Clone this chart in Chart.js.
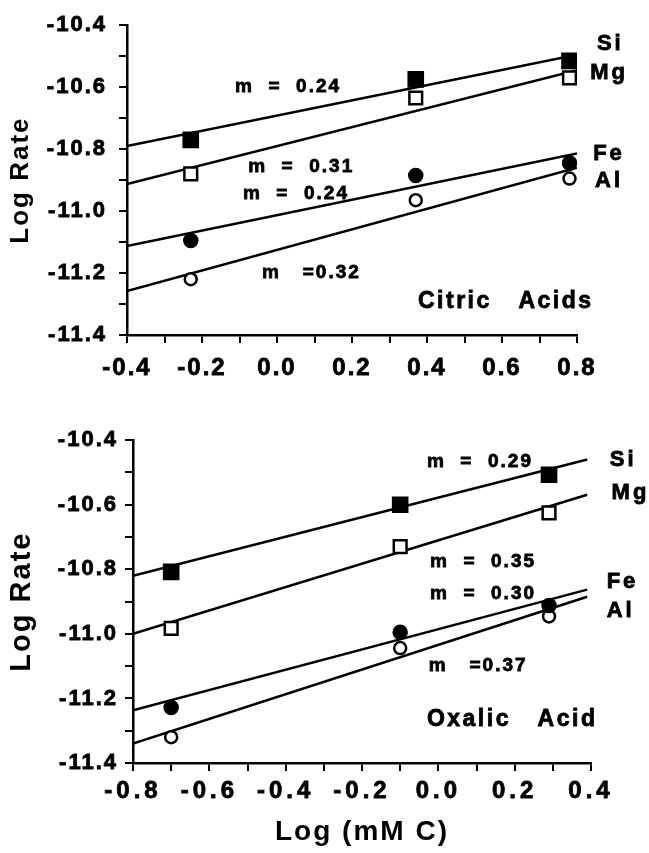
<!DOCTYPE html>
<html>
<head>
<meta charset="utf-8">
<script src="https://cdn.jsdelivr.net/npm/chart.js@4.4.0/dist/chart.umd.min.js"></script>
<style>
  html, body { margin: 0; padding: 0; background: #fff; }
  #wrap { position: relative; width: 649px; height: 853px; }
  canvas { position: absolute; left: 0; }
  #citric { top: 0; }
  #oxalic { top: 420px; }
</style>
</head>
<body>
<div id="wrap">
  <canvas id="citric" width="649" height="420"></canvas>
  <canvas id="oxalic" width="649" height="433"></canvas>
</div>
<script>
// citric acid panel (log mM C vs log rate)
const citricX = [-0.23, 0.37, 0.78];
const citricSi = [-10.77, -10.575, -10.515];
const citricMg = [-10.88, -10.635, -10.57];
const citricFe = [-11.095, -10.885, -10.845];
const citricAl = [-11.22, -10.965, -10.895];

// fitted lines, end points
const citricFitX = [-0.4, 0.8];
const citricSiFit = [-10.79, -10.495];
const citricMgFit = [-10.913, -10.545];
const citricFeFit = [-11.113, -10.814];
const citricAlFit = [-11.258, -10.86];

// oxalic acid panel
const oxalicX = [-0.70, -0.10, 0.29];
const oxalicSi = [-10.808, -10.60, -10.507];
const oxalicMg = [-10.983, -10.73, -10.625];
const oxalicFe = [-11.228, -10.995, -10.912];
const oxalicAl = [-11.32, -11.044, -10.946];

const oxalicFitX = [-0.8, 0.39];
const oxalicSiFit = [-10.82, -10.46];
const oxalicMgFit = [-11.0, -10.569];
const oxalicFeFit = [-11.237, -10.863];
const oxalicAlFit = [-11.34, -10.885];

// text placed in data units
const citricSlopes = [
    { text: 'm  =  0.24', x: -0.112, y: -10.60 },
    { text: 'm  =  0.31', x: -0.077, y: -10.857 },
    { text: 'm  =  0.24', x: -0.091, y: -10.944 },
    { text: 'm   =0.32', x: -0.04, y: -11.2 }
];
const citricElements = [
    { text: 'Si', x: 0.853, y: -10.462 },
    { text: 'Mg', x: 0.835, y: -10.554 },
    { text: 'Fe', x: 0.843, y: -10.817 },
    { text: 'Al', x: 0.848, y: -10.904 }
];
const citricTitle = [{ text: 'Citric   Acids', x: 0.376, y: -11.292 }];

const oxalicSlopes = [
    { text: 'm  =  0.29', x: -0.03, y: -10.467 },
    { text: 'm  =  0.35', x: -0.022, y: -10.777 },
    { text: 'm  =  0.30', x: -0.022, y: -10.875 },
    { text: 'm   =0.37', x: -0.025, y: -11.099 }
];
const oxalicElements = [
    { text: 'Si', x: 0.449, y: -10.461 },
    { text: 'Mg', x: 0.454, y: -10.563 },
    { text: 'Fe', x: 0.441, y: -10.839 },
    { text: 'Al', x: 0.441, y: -10.928 }
];
const oxalicTitle = [{ text: 'Oxalic   Acid', x: -0.03, y: -11.265 }];

Chart.defaults.font.family = '"Liberation Sans", Arial, sans-serif';
Chart.defaults.font.weight = 'bold';
Chart.defaults.color = '#000';

const pts = (xs, ys) => xs.map((x, i) => ({ x: x, y: ys[i] }));

const marker = (data, style, filled, radius) => ({
    data: data,
    pointStyle: style,
    pointRadius: radius,
    pointBackgroundColor: filled ? '#000' : '#fff',
    pointBorderColor: '#000',
    pointBorderWidth: 2.5,
    showLine: false,
    order: 0
});

const fit = (data) => ({
    data: data,
    showLine: true,
    borderColor: '#000',
    borderWidth: 2.5,
    pointRadius: 0,
    order: 1
});

const evenLabel = (v) => Math.round(v * 10) % 2 === 0 ? v.toFixed(1) : '';

const notesPlugin = {
    id: 'notes',
    afterDatasetsDraw(chart, args, opts) {
        const { ctx } = chart;
        const xs = chart.scales.x;
        const ys = chart.scales.y;
        ctx.save();
        ctx.fillStyle = '#000';
        ctx.strokeStyle = '#000';
        ctx.lineWidth = 0.8;
        ctx.textAlign = 'left';
        ctx.textBaseline = 'middle';
        (opts.groups || []).forEach(g => {
            ctx.font = g.font;
            ctx.letterSpacing = g.spacing + 'px';
            g.items.forEach(n => {
                const px = xs.getPixelForValue(n.x);
                const py = ys.getPixelForValue(n.y);
                ctx.fillText(n.text, px, py);
                ctx.strokeText(n.text, px, py);
            });
        });
        ctx.restore();
    }
};

const spacingPlugin = {
    id: 'spacing',
    beforeDraw(chart, args, opts) {
        chart.ctx.letterSpacing = (opts.all || 0) + 'px';
        const labels = opts.labels || {};
        Object.keys(labels).forEach(id => {
            const s = chart.scales[id];
            if (!s || s._spaced) return;
            const draw = s.drawLabels.bind(s);
            s.drawLabels = (area) => {
                const c = chart.ctx;
                const prev = c.letterSpacing;
                c.letterSpacing = labels[id] + 'px';
                draw(area);
                c.letterSpacing = prev;
            };
            s._spaced = true;
        });
    },
    afterDraw(chart) {
        chart.ctx.letterSpacing = '0px';
    }
};

function makePanel(canvasId, cfg) {
    return new Chart(document.getElementById(canvasId), {
        type: 'scatter',
        data: {
            datasets: [
                marker(pts(cfg.x, cfg.si), 'rect', true, 10),
                marker(pts(cfg.x, cfg.mg), 'rect', false, 9),
                marker(pts(cfg.x, cfg.fe), 'circle', true, 6.5),
                marker(pts(cfg.x, cfg.al), 'circle', false, 6),
                fit(pts(cfg.fitX, cfg.siFit)),
                fit(pts(cfg.fitX, cfg.mgFit)),
                fit(pts(cfg.fitX, cfg.feFit)),
                fit(pts(cfg.fitX, cfg.alFit))
            ]
        },
        options: {
            responsive: false,
            animation: false,
            events: [],
            layout: { padding: cfg.padding },
            plugins: {
                legend: { display: false },
                tooltip: { enabled: false },
                notes: { groups: cfg.notes },
                spacing: cfg.spacing
            },
            scales: {
                x: {
                    type: 'linear',
                    min: cfg.xMin,
                    max: cfg.xMax,
                    afterFit: (s) => { s.height = cfg.xHeight; },
                    border: { color: '#000', width: 2.5 },
                    grid: { drawOnChartArea: false, tickLength: 8, color: '#000', lineWidth: 2 },
                    ticks: {
                        stepSize: 0.1,
                        autoSkip: false,
                        maxRotation: 0,
                        padding: cfg.xPad,
                        font: { size: 24, weight: 'bold' },
                        textStrokeColor: '#000',
                        textStrokeWidth: 0.8,
                        callback: evenLabel
                    },
                    title: cfg.xTitle
                },
                y: {
                    type: 'linear',
                    min: -11.4,
                    max: -10.4,
                    afterFit: (s) => { s.width = cfg.yWidth; },
                    border: { color: '#000', width: 2.5 },
                    grid: { drawOnChartArea: false, tickLength: 8, color: '#000', lineWidth: 2 },
                    ticks: {
                        stepSize: 0.1,
                        autoSkip: false,
                        padding: cfg.yPad,
                        font: { size: cfg.yFont, weight: 'bold' },
                        textStrokeColor: '#000',
                        textStrokeWidth: 0.8,
                        callback: evenLabel
                    },
                    title: {
                        display: true,
                        text: 'Log Rate',
                        font: { size: cfg.yTitleFont, weight: 'bold' },
                        padding: { top: 5, bottom: 0 }
                    }
                }
            }
        },
        plugins: [notesPlugin, spacingPlugin]
    });
}

document.addEventListener('DOMContentLoaded', () => {

    const slopeFont = 'bold 19px "Liberation Sans", Arial, sans-serif';
    const elemFont = 'bold 22px "Liberation Sans", Arial, sans-serif';
    const titleFont = 'bold 23px "Liberation Sans", Arial, sans-serif';

    makePanel('citric', {
        x: citricX, si: citricSi, mg: citricMg, fe: citricFe, al: citricAl,
        fitX: citricFitX, siFit: citricSiFit, mgFit: citricMgFit, feFit: citricFeFit, alFit: citricAlFit,
        xMin: -0.4, xMax: 0.8,
        padding: { top: 13, right: 72, left: 0, bottom: 0 },
        xHeight: 85, yWidth: 127, xPad: 11, yPad: 12, yFont: 22, yTitleFont: 26,
        xTitle: { display: false },
        spacing: { all: 2 },
        notes: [
            { font: slopeFont, spacing: 2, items: citricSlopes },
            { font: elemFont, spacing: 3, items: citricElements },
            { font: titleFont, spacing: 2.5, items: citricTitle }
        ]
    });

    makePanel('oxalic', {
        x: oxalicX, si: oxalicSi, mg: oxalicMg, fe: oxalicFe, al: oxalicAl,
        fitX: oxalicFitX, siFit: oxalicSiFit, mgFit: oxalicMgFit, feFit: oxalicFeFit, alFit: oxalicAlFit,
        xMin: -0.8, xMax: 0.4,
        padding: { top: 15, right: 58, left: 0, bottom: 0 },
        xHeight: 90, yWidth: 133, xPad: 6, yPad: 7, yFont: 22, yTitleFont: 29,
        xTitle: {
            display: true,
            text: 'Log (mM C)',
            font: { size: 28, weight: 'bold' },
            padding: { top: 0, bottom: 4 }
        },
        spacing: { all: 2, labels: { x: 4 } },
        notes: [
            { font: slopeFont, spacing: 2, items: oxalicSlopes },
            { font: elemFont, spacing: 3, items: oxalicElements },
            { font: titleFont, spacing: 2.5, items: oxalicTitle }
        ]
    });

});
</script>
</body>
</html>
